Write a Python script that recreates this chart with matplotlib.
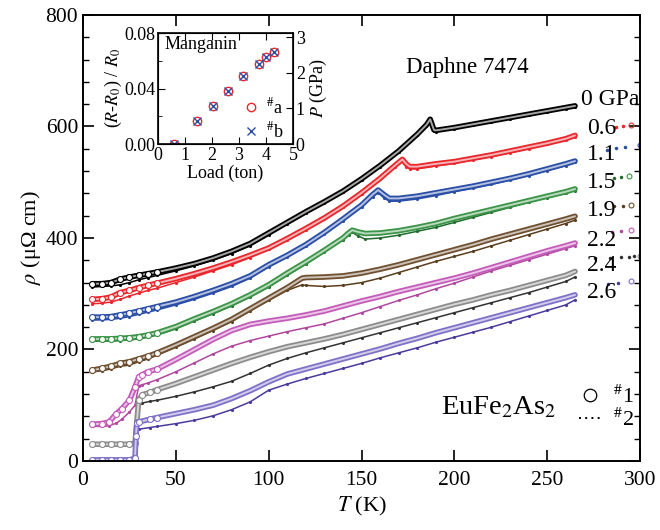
import matplotlib
matplotlib.use("Agg")
from matplotlib import pyplot as plt
from matplotlib.lines import Line2D

plt.rcParams['font.family'] = ['Liberation Serif', 'DejaVu Serif']
plt.rcParams['mathtext.fontset'] = 'stix'

# ---- data: T (K), rho (uOhm cm); _1 = sample #1, _2 = sample #2
T0 = [5,10,15,20,25,30,35,40,50,60,70,80,90,100,110,120,130,140,150,160,170,180,185,187,189,190,200,210,220,230,240,250,260,265]
R0_1 = [318,318,320,326,330,333,336,339,346,354,364,376,390,409,428,447,465,484,506,530,556,586,603,613,594,593,598,604,610,616,622,628,634,637]
R0_2 = [312,313,314,316,320,325,329,333,341,350,360,372,386,405,425,444,463,482,504,528,554,584,601,610,592,591,596,602,608,614,620,626,632,635]

T06 = [5,10,15,20,25,30,35,40,50,60,70,80,90,100,110,120,130,140,150,160,168,172,174,176,180,190,200,210,220,230,240,250,260,265]
R06_1 = [290,291,294,302,306,311,315,319,327,336,346,357,369,382,399,417,436,457,481,507,530,541,533,528,528,533,537,543,549,556,563,570,578,584]
R06_2 = [282,283,285,290,296,301,306,310,320,330,341,352,365,380,397,415,434,455,479,505,528,538,528,524,524,529,534,540,546,553,560,568,576,582]
T06_tail = [287,291,295]
R06_tail = [599,600,602]

T11 = [5,10,15,20,25,30,35,40,50,60,70,80,90,100,110,120,130,140,150,156,159,162,165,170,180,190,200,210,220,230,240,250,260,265]
R11_1 = [258,258,259,262,265,269,273,277,285,295,306,318,332,352,369,388,410,434,459,478,486,478,471,471,475,481,487,493,500,507,515,524,533,538]
R11_2 = [253,253,254,256,259,263,267,271,280,290,301,313,328,348,366,385,407,431,456,474,481,472,466,466,470,476,483,489,496,504,512,521,530,536]
T11_tail = [282,287,292,300]
R11_tail = [558,561,563,566]

T15 = [5,10,15,20,25,30,35,40,50,60,70,80,90,100,110,120,130,140,143,145,148,152,160,170,180,190,200,210,220,230,240,250,260,265]
R15_1 = [219,219,219,220,221,223,226,230,241,255,268,282,298,316,337,357,378,400,409,414,411,408,409,413,419,426,435,443,451,459,467,475,483,488]
R15_2 = [215,215,215,216,217,219,222,226,237,251,264,278,294,312,333,353,375,397,405,410,404,398,400,405,412,419,428,437,446,455,464,472,480,485]
T15_tail = [286,290,294]
R15_tail = [508,509,511]

T19 = [5,10,15,20,25,30,35,40,50,60,70,80,90,100,110,118,120,130,140,150,160,170,180,190,200,210,220,230,240,250,260,265]
R19_1 = [163,166,170,175,178,183,188,194,208,223,238,254,273,292,311,328,329,330,332,337,344,352,361,370,379,388,398,407,416,425,434,439]
R19_2 = [160,162,165,170,172,178,183,190,204,219,234,250,269,288,306,316,315,313,315,320,328,338,348,358,367,376,386,396,406,416,426,432]
T19_tail = [286,291,295]
R19_tail = [457,458,460]

T22 = [5,10,14,18,21,25,28,30,32,35,40,50,60,70,80,90,100,110,120,130,140,150,160,170,180,190,200,210,220,230,240,250,260,265]
R22_1 = [66,67,70,85,94,109,133,151,155,160,165,182,200,218,234,245,251,256,262,269,278,287,295,304,312,320,328,337,347,357,367,377,386,391]
R22_2 = [62,62,63,68,75,88,100,135,137,140,146,160,176,192,206,216,224,232,239,246,256,266,277,288,298,309,319,330,341,351,361,371,381,386]
T22_tail = [285,290,295]
R22_tail = [410,412,415]

T24 = [5,10,15,20,25,28,29,30,32,36,40,50,60,70,80,90,100,110,120,130,140,150,160,170,180,190,200,210,220,230,240,250,260,265]
R24_1 = [30,30,30,30,30,32,70,110,119,123,128,139,151,163,175,186,196,205,212,219,227,236,245,254,263,272,281,289,298,306,315,324,333,340]
R24_2 = [29,29,29,29,29,30,60,100,104,107,109,116,124,133,143,157,172,184,194,203,212,221,230,239,248,257,266,275,284,293,302,312,322,330]
T24_tail = [276,284,290,294,297,300]
R24_tail = [364,365,366,366,367,367]

T26 = [5,10,15,20,25,28,28.5,29,30,36,40,50,60,70,80,90,100,110,120,130,140,150,160,170,180,190,200,210,220,230,240,250,260,265]
R26_1 = [2,2,2,2,2,5,45,68,70,75,78,85,92,100,112,126,142,156,165,174,183,192,201,211,220,230,239,248,257,266,275,284,293,298]
R26_2 = [1,1,1,1,1,3,30,50,57,60,62,67,73,81,92,106,127,138,148,157,166,175,185,194,203,213,222,231,240,250,260,270,280,289]
T26_tail = [283,288,295]
R26_tail = [318,320,322]

labels = ['0 GPa', '0.6', '1.1', '1.5', '1.9', '2.2', '2.4', '2.6']
label_rho = [648, 597, 549, 500, 450, 396, 350, 303]

# manganin gauge (inset)
load = [0.6, 1.46, 2.02, 2.58, 3.16, 3.73, 4.0, 4.29]
dR_a = [0.0, 0.0166, 0.0276, 0.0384, 0.049, 0.0577, 0.0625, 0.066]
dR_b = [0.0, 0.0166, 0.0276, 0.0384, 0.049, 0.0577, 0.0625, 0.066]

curves = [
    (T0, R0_1, R0_2, None, None, 'black', 'black'),
    (T06, R06_1, R06_2, T06_tail, R06_tail, '#e8262b', '#e8262b'),
    (T11, R11_1, R11_2, T11_tail, R11_tail, '#2a4ea6', '#2a4ea6'),
    (T15, R15_1, R15_2, T15_tail, R15_tail, '#3a9446', '#1f6a2c'),
    (T19, R19_1, R19_2, T19_tail, R19_tail, '#6e5030', '#5a3d1c'),
    (T22, R22_1, R22_2, T22_tail, R22_tail, '#c45bbb', '#b0479f'),
    (T24, R24_1, R24_2, T24_tail, R24_tail, '#8c8c8c', '#333333'),
    (T26, R26_1, R26_2, T26_tail, R26_tail, '#7f70c8', '#4a3a9c'),
]

fig = plt.figure(figsize=(6.6, 5.3), dpi=100)
ax = fig.add_axes([0.1258, 0.1302, 0.8439, 0.8415])

for T, r1, r2, tt, rt, c1, c2 in curves:
    ax.plot(T, r2, color=c2, lw=1.1, marker='.', ms=2.5)
    # sample #1: dense open circles -> hollow band
    ax.plot(T, r1, color=c1, lw=4.0, solid_capstyle='round')
    ax.plot(T, r1, color='white', lw=1.4, alpha=0.65, solid_capstyle='round')
    lowT = [i for i, t in enumerate(T) if t <= 40]
    ax.plot([T[i] for i in lowT], [r1[i] for i in lowT], color=c1, ls='none',
            marker='o', mfc='white', ms=4.3, mew=0.8)
    if tt is not None:
        ax.plot(tt[:-1], rt[:-1], color=c2, ls='none', marker='.', ms=3)
        ax.plot(tt[-1:], rt[-1:], color=c1, ls='none', marker='o', mfc='none', ms=3.5, mew=0.8)

for lab, y in zip(labels, label_rho):
    x = 268 if lab.endswith('GPa') else 271.5
    ax.text(x, y, lab, fontsize=17, va='center', ha='left')

ax.text(174, 705, 'Daphne 7474', fontsize=16.5, ha='left', va='center')
ax.text(193, 95, 'EuFe$_2$As$_2$', fontsize=20.5, ha='left', va='center')

h = [Line2D([], [], color='k', ls='none', marker='o', mfc='none', ms=9, mew=0.9),
     Line2D([], [], color='k', ls=(0, (1, 2.2)), lw=1.4)]
ax.legend(h, ['$^{\\#}$1', '$^{\\#}$2'], loc='upper left', bbox_to_anchor=(0.855, 0.215),
          frameon=False, fontsize=16, handlelength=1.0, handletextpad=0.5, labelspacing=0.05)

ax.set_xlim(0, 300)
ax.set_ylim(0, 800)
ax.set_xticks([0, 50, 100, 150, 200, 250, 300])
ax.set_yticks([0, 200, 400, 600, 800])
ax.set_yticks(range(0, 801, 40), minor=True)
ax.tick_params(which='both', direction='in', top=True, right=True, labelsize=15.5)
ax.tick_params(axis='x', pad=7)
ax.tick_params(which='major', length=8, width=1.2)
ax.tick_params(which='minor', length=4, width=1.0)
for s in ax.spines.values():
    s.set_linewidth(1.4)
ax.set_xlabel('$T$ (K)', fontsize=16, labelpad=4)
ax.set_ylabel('$\\rho$ (μΩ cm)', fontsize=16, labelpad=2)

# inset
ins = fig.add_axes([0.2394, 0.7283, 0.2045, 0.2094])
ins.plot(load, dR_a, ls='none', marker='o', mfc='none', color='#e8262b', ms=6, mew=1.0, label='$^{\\#}$a')
ins.plot(load, dR_b, ls='none', marker='x', color='#2a4ea6', ms=6, mew=1.0, label='$^{\\#}$b')
ins.set_xlim(0, 5)
ins.set_ylim(0, 0.08)
ins.set_xticks([0, 1, 2, 3, 4, 5])
ins.set_yticks([0, 0.04, 0.08])
ins.set_yticklabels(['0.00', '0.04', '0.08'])
ins.set_yticks([0.02, 0.06], minor=True)
ins.tick_params(which='both', direction='in', top=True, labelsize=13, pad=2)
ins.tick_params(which='major', length=5)
ins.tick_params(which='minor', length=3)
ins.set_xlabel('Load (ton)', fontsize=13, labelpad=1)
ins.set_ylabel('($R$-$R_0$) / $R_0$', fontsize=13, labelpad=0)
ins.text(0.25, 0.0715, 'Manganin', fontsize=13, va='center')
ins.legend(loc='upper left', bbox_to_anchor=(0.57, 0.52), frameon=False, fontsize=13,
           handlelength=0.6, handletextpad=0.5, labelspacing=0.25, borderpad=0.1)
for s in ins.spines.values():
    s.set_linewidth(1.2)
insr = ins.twinx()
insr.set_ylim(0, 3.12)
insr.set_yticks([0, 1, 2, 3])
insr.tick_params(direction='in', labelsize=13, length=5, pad=2)
insr.set_ylabel('$P$ (GPa)', fontsize=13, labelpad=2)

fig.savefig('out.png', dpi=100)
